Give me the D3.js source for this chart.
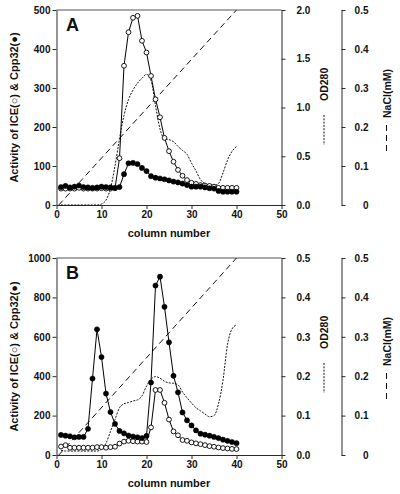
<!DOCTYPE html>
<html><head><meta charset="utf-8">
<script src="https://cdn.jsdelivr.net/npm/d3@7"></script>
<style>body{margin:0;background:#fff}svg{display:block}text{font-family:"Liberation Sans",Arial,sans-serif;font-weight:bold;fill:#111}</style>
</head><body>
<script>
// ---------- data ----------
const columns = [1,2,3,4,5,6,7,8,9,10,11,12,13,14,15,16,17,18,19,20,21,22,23,24,25,26,27,28,29,30,31,32,33,34,35,36,37,38,39,40];
// Panel A
const iceA = [42,42,42,42,44,42,42,42,42,43,42,42,43,120,357,443,480,485,421,391,331,271,225,172,138,111,90,75,64,57,54,51,50,49,47,44,44,44,44,44];
const cppA = [46,49,45,47,50,46,45,44,45,47,46,45,44,46,79,107,108,105,95,87,74,70,68,66,63,60,58,55,51,47,47,47,45,43,42,36,34,34,34,34];
const odA  = [0,0,0,0,0,0,0,0,0,0.01,0.05,0.17,0.4,0.68,0.92,1.08,1.18,1.25,1.3,1.34,1.28,1.02,0.78,0.68,0.67,0.65,0.6,0.56,0.52,0.43,0.35,0.26,0.22,0.2,0.2,0.22,0.33,0.46,0.55,0.6];
// Panel B
const iceB = [43,50,37,37,37,37,37,37,40,40,37,40,42,58,68,72,70,68,68,66,140,330,330,265,180,120,100,76,72,64,59,55,50,45,42,38,35,33,31,30];
const cppB = [102,98,95,90,92,92,133,388,638,497,312,218,158,122,110,99,94,90,86,97,368,860,905,752,572,402,318,216,176,150,125,108,103,98,92,86,78,72,66,60];
const odB  = [0.012,0.01,0.01,0.01,0.01,0.01,0.01,0.01,0.01,0.015,0.03,0.06,0.09,0.12,0.13,0.133,0.137,0.14,0.15,0.175,0.192,0.199,0.195,0.187,0.183,0.182,0.178,0.16,0.145,0.132,0.12,0.112,0.104,0.097,0.1,0.13,0.19,0.28,0.32,0.33];
// NaCl gradient (same in both panels)
const naclCols = [0.5, 40];
const nacl = [0, 0.5];
// tick labels
const xTicks = [0,10,20,30,40,50];
const leftTicksA = [0,100,200,300,400,500];
const leftTicksB = [0,200,400,600,800,1000];
const odTicksA = [0,0.5,1.0,1.5,2.0];
const odTicksB = [0,0.1,0.2,0.3,0.4,0.5];
const naclTicks = [0,0.1,0.2,0.3,0.4,0.5];

// ---------- drawing ----------
const svg = d3.select("body").append("svg").attr("width",400).attr("height",494);
const x = d3.scaleLinear().domain([0,50]).range([56.5,281.5]);
const AX = "#2a2a2a";

function panel(cfg){
  const {top,bottom,leftMax,leftTicks,leftMinor,odMax,odTicks,odMinor,ice,cpp,od,letter} = cfg;
  const g = svg.append("g");
  const yL = d3.scaleLinear().domain([0,leftMax]).range([bottom,top]);
  const yO = d3.scaleLinear().domain([0,odMax]).range([bottom,top]);
  const yN = d3.scaleLinear().domain([0,0.5]).range([bottom,top]);

  // frame top
  g.append("line").attr("x1",x(0)).attr("x2",x(50)).attr("y1",top).attr("y2",top)
    .attr("stroke","#555").attr("stroke-width",1.2);

  // bottom axis
  const xa = g.append("g").attr("transform",`translate(0,${bottom})`);
  xa.call(d3.axisBottom(x).tickValues(d3.range(5,50,10)).tickSize(3).tickFormat("").tickSizeOuter(0));
  xa.call(d3.axisBottom(x).tickValues(xTicks).tickSize(4).tickPadding(2).tickSizeOuter(0));
  g.append("text").attr("x",(x(0)+x(50))/2).attr("y",bottom+32).attr("text-anchor","middle")
    .style("font-size","11px").text("column number");

  // left axis
  const la = g.append("g").attr("transform",`translate(${x(0)},0)`);
  la.call(d3.axisLeft(yL).tickValues(leftMinor).tickSize(3).tickFormat("").tickSizeOuter(0));
  la.call(d3.axisLeft(yL).tickValues(leftTicks).tickSize(4).tickPadding(2).tickFormat(d3.format("d")).tickSizeOuter(0));
  g.append("text").attr("transform",`translate(18,${(top+bottom)/2}) rotate(-90)`)
    .attr("text-anchor","middle").style("font-size","11px").text("Activity of ICE(\u25CB) & Cpp32(\u25CF)");

  // OD axis (right)
  const oa = g.append("g").attr("transform",`translate(${x(50)},0)`);
  oa.call(d3.axisRight(yO).tickValues(odMinor).tickSize(3).tickFormat("").tickSizeOuter(0));
  oa.call(d3.axisRight(yO).tickValues(odTicks).tickSize(4).tickPadding(11).tickFormat(d3.format(".1f")).tickSizeOuter(0));
  // OD label
  g.append("text").attr("transform",`translate(328,${top+91}) rotate(-90)`)
    .attr("text-anchor","start").style("font-size","10.5px").text("OD280");
  g.append("line").attr("x1",324).attr("x2",324).attr("y1",top+105).attr("y2",top+135)
    .attr("stroke","#111").attr("stroke-width",1).attr("stroke-dasharray","2,1.3");

  // NaCl axis
  const na = g.append("g").attr("transform",`translate(341.5,0)`);
  na.call(d3.axisRight(yN).tickValues(d3.range(0.05,0.5,0.1)).tickSize(3).tickFormat("").tickSizeOuter(0));
  na.call(d3.axisRight(yN).tickValues(naclTicks).tickSize(4).tickFormat(d=>d===0?"0":d3.format(".1f")(d)).tickSizeOuter(0));
  na.selectAll("text").attr("text-anchor","end").attr("x",27);
  g.append("text").attr("transform",`translate(390.5,${top+108}) rotate(-90)`)
    .attr("text-anchor","start").style("font-size","10.5px").text("NaCl(mM)");
  g.append("line").attr("x1",386.5).attr("x2",386.5).attr("y1",top+115).attr("y2",top+145)
    .attr("stroke","#111").attr("stroke-width",1).attr("stroke-dasharray","6,4");

  g.selectAll(".domain").attr("stroke",AX);
  g.selectAll(".tick line").attr("stroke",AX);
  g.selectAll(".tick text").style("font-size","10px").attr("fill","#111");

  // NaCl dashed line
  g.append("path").datum(naclCols.map((c,i)=>[c,nacl[i]]))
    .attr("d",d3.line().x(d=>x(d[0])).y(d=>yN(d[1])))
    .attr("fill","none").attr("stroke","#111").attr("stroke-width",1).attr("stroke-dasharray","6,4");
  // OD dotted line
  g.append("path").datum(columns.map((c,i)=>[c,od[i]]))
    .attr("d",d3.line().x(d=>x(d[0])).y(d=>yO(d[1])).curve(d3.curveMonotoneX))
    .attr("fill","none").attr("stroke","#111").attr("stroke-width",1).attr("stroke-dasharray","2,1.3");

  // activity series
  const line = d3.line().x(d=>x(d[0])).y(d=>yL(d[1]));
  const iceD = columns.map((c,i)=>[c,ice[i]]);
  const cppD = columns.map((c,i)=>[c,cpp[i]]);
  g.append("path").datum(iceD).attr("d",line).attr("fill","none").attr("stroke","#000").attr("stroke-width",1);
  g.append("path").datum(cppD).attr("d",line).attr("fill","none").attr("stroke","#000").attr("stroke-width",1);
  g.selectAll(".ice").data(iceD).enter().append("circle")
    .attr("cx",d=>x(d[0])).attr("cy",d=>yL(d[1])).attr("r",2.4)
    .attr("fill","#fff").attr("stroke","#000").attr("stroke-width",0.9);
  g.selectAll(".cpp").data(cppD).enter().append("circle")
    .attr("cx",d=>x(d[0])).attr("cy",d=>yL(d[1])).attr("r",2.6)
    .attr("fill","#000").attr("stroke","#000").attr("stroke-width",0.5);

  // panel letter
  g.append("text").attr("x",66).attr("y",top+21).style("font-size","18px").text(letter);
}

panel({top:10,bottom:205,leftMax:500,leftTicks:leftTicksA,leftMinor:d3.range(50,500,100),
  odMax:2,odTicks:odTicksA,odMinor:[0.25,0.75,1.25,1.75],ice:iceA,cpp:cppA,od:odA,letter:"A"});
panel({top:258,bottom:455,leftMax:1000,leftTicks:leftTicksB,leftMinor:d3.range(100,1000,200),
  odMax:0.5,odTicks:odTicksB,odMinor:[0.05,0.15,0.25,0.35,0.45],ice:iceB,cpp:cppB,od:odB,letter:"B"});
</script>
</body></html>
